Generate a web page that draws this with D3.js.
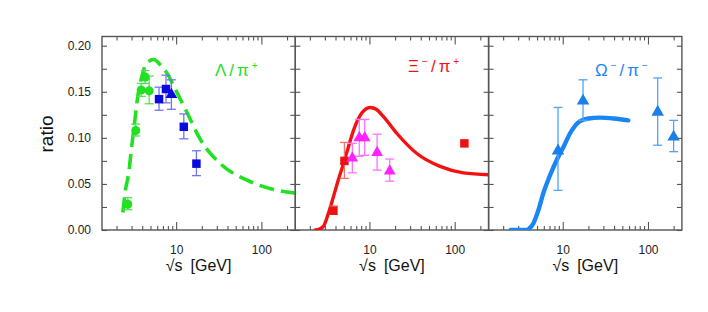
<!DOCTYPE html>
<html>
<head>
<meta charset="utf-8">
<script src="https://cdn.jsdelivr.net/npm/d3@7"></script>
<style>
  body { margin:0; background:#fff; }
  svg text { font-family: "Liberation Sans", Arial, sans-serif; }
</style>
</head>
<body>
<svg id="chart" width="708" height="312"></svg>
<script>
// ---------------------------------------------
// data (sqrt(s) in GeV, ratio)
// ---------------------------------------------

// Lambda/pi+ model curve (dashed green)
var lamCurveE = [2.37, 2.54, 2.78, 2.98, 3.25, 3.55, 4.0, 4.49, 5.46, 6.55, 7.84, 9.4, 13.5, 19.3, 33, 68, 139, 250];
var lamCurveR = [0.019, 0.043, 0.062, 0.087, 0.116, 0.145, 0.168, 0.181, 0.185, 0.179, 0.170, 0.156, 0.127, 0.098, 0.072, 0.054, 0.044, 0.040];
// Lambda/pi+ low energy data (green circles)
var lamAgsE  = [2.71, 3.36, 3.89, 4.33, 4.83];
var lamAgsR  = [0.028, 0.108, 0.152, 0.166, 0.151];
var lamAgsLo = [0.022, 0.102, 0.145, 0.159, 0.137];
var lamAgsHi = [0.035, 0.115, 0.159, 0.173, 0.167];
// Lambda/pi+ NA49 data (blue)
var lamSpsE  = [6.3, 7.6, 8.8, 12.3, 17.3];
var lamSpsR  = [0.142, 0.153, 0.147, 0.112, 0.072];
var lamSpsLo = [0.130, 0.138, 0.131, 0.099, 0.059];
var lamSpsHi = [0.155, 0.168, 0.163, 0.126, 0.086];
var lamSpsSym = ["sq", "sq", "tri", "sq", "sq"];

// Xi-/pi+ model curve (red)
var xiCurveE = [2.31, 2.6, 2.89, 3.3, 3.78, 4.3, 4.96, 5.7, 6.49, 8.14, 10.2, 12, 14.6, 20.9, 36, 67.4, 126.5, 255];
var xiCurveR = [0.0, 0.001, 0.004, 0.018, 0.036, 0.054, 0.072, 0.091, 0.108, 0.127, 0.133, 0.131, 0.123, 0.105, 0.083, 0.069, 0.062, 0.060];
// Xi-/pi+ red squares
var xiRedE  = [3.78, 5.09, 130];
var xiRedR  = [0.021, 0.075, 0.094];
var xiRedLo = [0.017, 0.056, 0.094];
var xiRedHi = [0.026, 0.095, 0.094];
// Xi-/pi+ magenta triangles
var xiMagE  = [6.3, 7.6, 8.8, 12.3, 17.3];
var xiMagR  = [0.078, 0.100, 0.100, 0.084, 0.064];
var xiMagLo = [0.062, 0.080, 0.081, 0.065, 0.053];
var xiMagHi = [0.094, 0.120, 0.120, 0.104, 0.077];

// Omega-/pi- model curve (blue)
var omCurveE = [2.45, 3.79, 4.2, 4.52, 5.2, 5.92, 7.0, 8.5, 10.2, 12.2, 15.9, 20, 27.4, 40, 58.7];
var omCurveR = [0.0, 0.0, 0.003, 0.007, 0.022, 0.040, 0.058, 0.076, 0.090, 0.105, 0.118, 0.121, 0.122, 0.121, 0.119];
// Omega-/pi- triangles
var omE  = [8.8, 17.3, 130, 200];
var omR  = [0.086, 0.140, 0.128, 0.101];
var omLo = [0.043, 0.119, 0.092, 0.085];
var omHi = [0.133, 0.163, 0.165, 0.119];

var yTicks = [0, 0.05, 0.10, 0.15, 0.20];

(function() {

// ---------------------------------------------
// layout
// ---------------------------------------------
var svg = d3.select("#chart");
var yTop = 36.5, yBot = 230, pw = 193.3;
var panelX = [102, 295.3, 488.6];
var frameCol = "#555555";

var x = d3.scaleLog().domain([1.35, 250]).range([0, pw]);
var y = d3.scaleLinear().domain([0, 0.21]).range([yBot, yTop]);

function zip(a, b) { return a.map(function(v, i){ return [v, b[i]]; }); }

var line = d3.line()
  .x(function(d){ return x(d[0]); })
  .y(function(d){ return y(d[1]); })
  .curve(d3.curveMonotoneX);

var panels = [
  { curve: zip(lamCurveE, lamCurveR), col: "#22e022", width: 3.6, dash: "15,7",
    label: ["Λ/π", "+"], lx: 215, ly: 75.5, size: 17 },
  { curve: zip(xiCurveE, xiCurveR), col: "#f21212", width: 3.4, dash: null,
    label: ["Ξ", "−", "/π", "+"], lx: 408, ly: 71.5, size: 17 },
  { curve: zip(omCurveE, omCurveR), col: "#1a86f5", width: 4.4, dash: null,
    label: ["Ω", "−", "/π", "−"], lx: 595, ly: 76, size: 17 }
];

panels.forEach(function(p, i){
  var g = svg.append("g").attr("transform", "translate(" + panelX[i] + ",0)");

  // clip for curves
  g.append("clipPath").attr("id", "clip" + i)
    .append("rect").attr("x", 0).attr("y", yTop).attr("width", pw).attr("height", yBot - yTop);

  // ticks (inside) on all four sides
  var major = [10, 100];
  var minor = [2,3,4,5,6,7,8,9,20,30,40,50,60,70,80,90,200];
  var yMinor = [0.025, 0.075, 0.125, 0.175];

  g.append("g").attr("transform", "translate(0," + yBot + ")")
    .call(d3.axisBottom(x).tickValues(major).tickSize(-8).tickPadding(15).tickFormat(d3.format("d")));
  g.append("g").attr("transform", "translate(0," + yBot + ")")
    .call(d3.axisBottom(x).tickValues(minor).tickSize(-4).tickFormat(""));
  g.append("g").attr("transform", "translate(0," + yTop + ")")
    .call(d3.axisTop(x).tickValues(major).tickSize(-8).tickFormat(""));
  g.append("g").attr("transform", "translate(0," + yTop + ")")
    .call(d3.axisTop(x).tickValues(minor).tickSize(-4).tickFormat(""));

  g.append("g")
    .call(d3.axisLeft(y).tickValues(yTicks.concat(yMinor)).tickSize(-5).tickPadding(11)
      .tickFormat(function(d){ return (i === 0 && yTicks.indexOf(d) >= 0) ? d3.format(".2f")(d) : ""; }));
  g.append("g").attr("transform", "translate(" + pw + ",0)")
    .call(d3.axisRight(y).tickValues(yTicks.concat(yMinor)).tickSize(-5).tickFormat(""));

  g.selectAll(".domain").remove();
  g.selectAll(".tick line").attr("stroke", frameCol).attr("stroke-width", 1.1);
  g.selectAll(".tick text").attr("fill", "#222").style("font-size", "12px")
    .style("font-family", "'Liberation Sans', Arial, sans-serif");

  // frame
  g.append("rect").attr("x", 0).attr("y", yTop).attr("width", pw).attr("height", yBot - yTop)
    .attr("fill", "none").attr("stroke", frameCol).attr("stroke-width", 1.4);

  // x title
  var xt = g.append("text").attr("x", pw / 2).attr("y", 271).attr("text-anchor", "middle")
    .style("font-size", "16px").attr("fill", "#111");
  xt.append("tspan").text("√s");
  xt.append("tspan").attr("dx", 8).text("[GeV]");

  // model curve
  var path = g.append("path").datum(p.curve)
    .attr("clip-path", "url(#clip" + i + ")")
    .attr("d", line).attr("fill", "none")
    .attr("stroke", p.col).attr("stroke-width", p.width)
    .attr("stroke-linecap", p.dash ? "butt" : "round");
  if (p.dash) path.attr("stroke-dasharray", p.dash);

  // label
  var t = svg.append("text").attr("x", p.lx).attr("y", p.ly)
    .attr("fill", p.col).style("font-size", p.size + "px").attr("letter-spacing", "3");
  p.label.forEach(function(s, k){
    var sup = (s === "+" || s === "−");
    t.append("tspan").text(s)
      .attr("dy", sup ? -7 : (k > 0 ? 7 : 0))
      .style("font-size", sup ? "10px" : p.size + "px");
  });
});

// ---------------------------------------------
// data markers
// ---------------------------------------------
function drawSet(panel, E, R, Lo, Hi, sym, col, errCol, size, cap) {
  var g = svg.append("g").attr("transform", "translate(" + panelX[panel] + ",0)");
  var d = E.map(function(e, i){ return { e: e, r: R[i], lo: Lo[i], hi: Hi[i], s: Array.isArray(sym) ? sym[i] : sym }; });

  var eb = g.selectAll(".eb").data(d.filter(function(v){ return v.hi > v.lo; })).enter().append("g")
    .attr("stroke", errCol).attr("stroke-width", 1.3);
  eb.append("line").attr("x1", function(v){ return x(v.e); }).attr("x2", function(v){ return x(v.e); })
    .attr("y1", function(v){ return y(v.lo); }).attr("y2", function(v){ return y(v.hi); });
  eb.append("line").attr("x1", function(v){ return x(v.e) - cap; }).attr("x2", function(v){ return x(v.e) + cap; })
    .attr("y1", function(v){ return y(v.lo); }).attr("y2", function(v){ return y(v.lo); });
  eb.append("line").attr("x1", function(v){ return x(v.e) - cap; }).attr("x2", function(v){ return x(v.e) + cap; })
    .attr("y1", function(v){ return y(v.hi); }).attr("y2", function(v){ return y(v.hi); });

  var symType = { sq: d3.symbolSquare, tri: d3.symbolTriangle, ci: d3.symbolCircle };
  g.selectAll(".pt").data(d).enter().append("path")
    .attr("transform", function(v){ return "translate(" + x(v.e) + "," + y(v.r) + ")"; })
    .attr("d", function(v){ return d3.symbol().type(symType[v.s]).size(size[v.s])(); })
    .attr("fill", col);
}

var sz = { sq: 72, tri: 60, ci: 64 };
drawSet(0, lamAgsE, lamAgsR, lamAgsLo, lamAgsHi, "ci", "#22e022", "#55e055", sz, 4.5);
drawSet(0, lamSpsE, lamSpsR, lamSpsLo, lamSpsHi, lamSpsSym, "#0a0adc", "#7373f0", sz, 4.5);
drawSet(1, xiRedE, xiRedR, xiRedLo, xiRedHi, "sq", "#ee1111", "#f07070", sz, 4.5);
drawSet(1, xiMagE, xiMagR, xiMagLo, xiMagHi, "tri", "#ff22ff", "#ff70ff", sz, 4.5);
drawSet(2, omE, omR, omLo, omHi, "tri", "#1a7fe8", "#4da3ff", { sq: 72, tri: 68, ci: 64 }, 4.5);

// y title
svg.append("text").attr("transform", "translate(53,134) rotate(-90)")
  .attr("text-anchor", "middle").style("font-size", "19px").attr("fill", "#111").text("ratio");

})();
</script>
</body>
</html>
